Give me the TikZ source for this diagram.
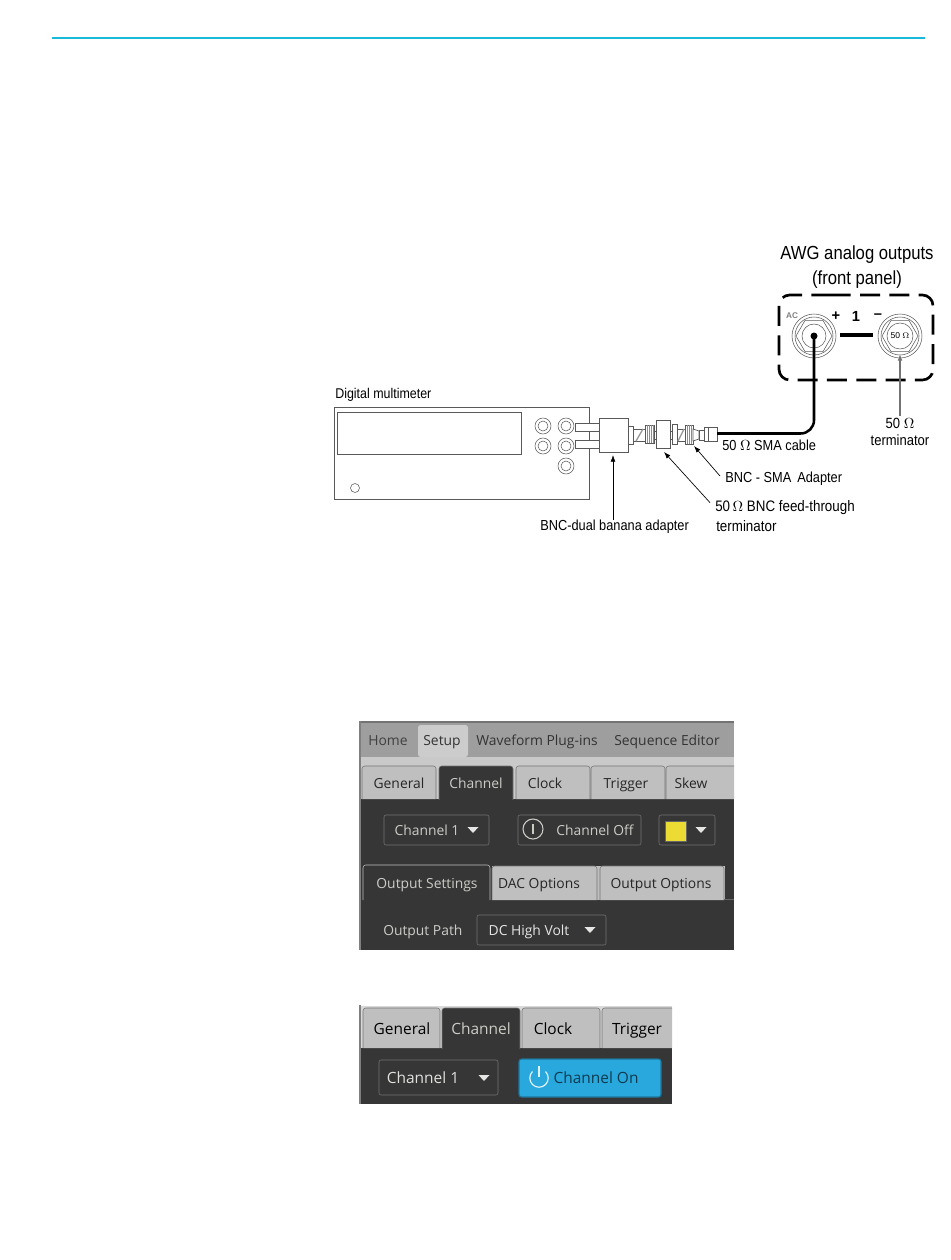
\documentclass[tikz,border=0pt]{standalone}
\usepackage{fontspec}
\setmainfont{Liberation Sans}
\newfontfamily\lblfont[FakeStretch=0.88]{Liberation Sans}
\newfontfamily\uifont{Open Sans}
\usetikzlibrary{arrows.meta}
\usetikzlibrary{positioning}
\definecolor{mcyan}{rgb}{0.09, 0.73, 0.85}
\definecolor{mdark}{rgb}{0.21, 0.21, 0.21}
\definecolor{mbar}{rgb}{0.62, 0.62, 0.62}
\definecolor{mtab}{rgb}{0.75, 0.75, 0.75}
\definecolor{mblue}{rgb}{0.16, 0.66, 0.87}
\definecolor{mtext}{rgb}{0.8, 0.8, 0.78}
\definecolor{mline}{rgb}{0.45, 0.45, 0.45}
\definecolor{myellow}{rgb}{0.92, 0.86, 0.2}
\tikzset{lbl/.style = {font=\lblfont\fontsize{10.9}{12}\selectfont, inner sep=0pt},
         part/.style = {draw=black!65, line width=0.5pt, fill=white},
         point/.style = {-{Latex[length=5pt,width=3.6pt]}, line width=0.5pt},
         uitext/.style = {font=\uifont\fontsize{10.4}{12}\selectfont, inner sep=0pt, text height=8pt, text depth=2pt},
         bigui/.style = {uitext, font=\uifont\fontsize{11.6}{14}\selectfont},
         lighttab/.style = {draw=black!55, fill=mtab, rounded corners=2pt},
         darktab/.style = {draw=black!55, fill=mdark, rounded corners=2pt},
         dropbox/.style = {draw=mline, fill=mdark, rounded corners=1.5pt}}

\begin{document}
\begin{tikzpicture}[x=0.75pt,y=-0.75pt]
    \useasboundingbox (0, 0) rectangle (950, 1260);
    \draw [mcyan, line width=2.2pt] (52, 38) -- (925, 38);

    % multimeter
    \node [lbl, font=\lblfont\fontsize{10.6}{12}\selectfont, anchor=west] (meterlabel) at (335, 395) {Digital multimeter};
    \draw [part] (334, 407) rectangle (589, 499);
    \draw [part] (337.5, 412) rectangle (521.5, 454);
    \foreach \x/\y in {543/426, 566/426, 543/446, 566/446, 566/466} {
      \draw [black!65, line width=0.4pt] (\x, \y) circle [radius=8] (\x, \y) circle [radius=5];
    }
    \draw [black!65, line width=0.4pt] (355, 488) circle [radius=4.5];
    \draw [part] (575, 423) rectangle (599, 431);
    \draw [part] (575, 440) rectangle (599, 448);

    % adapters
    \draw [part] (599, 418) rectangle (628, 452);
    \draw [part] (628, 426) rectangle (633, 444);
    \draw [part] (633, 429) rectangle (645, 441);
    \draw [black!40, line width=1pt] (636, 441) -- (643, 429);
    \draw [part] (645, 425) rectangle (654, 443);
    \foreach \x in {647, 649, 651, 653} {
      \draw [black!45, line width=0.4pt] (\x, 425) -- (\x, 443);
    }
    \draw [part] (654, 431) rectangle (656, 439);
    \draw [part] (656, 420) rectangle (670, 448);
    \draw [part] (670, 431) rectangle (672, 439);
    \draw [part] (672, 424) rectangle (677, 444);
    \draw [part] (677, 429) rectangle (685, 441);
    \draw [black!40, line width=1pt] (678, 441) -- (684, 429);
    \draw [part] (685, 425) rectangle (693, 444);
    \foreach \x in {687, 689, 691} {
      \draw [black!45, line width=0.4pt] (\x, 425) -- (\x, 444);
    }
    \draw [part] (693, 429) -- (699, 431) -- (699, 439) -- (693, 441) -- cycle;
    \draw [part] (699, 430) rectangle (704, 440);
    \draw [part] (704, 427) rectangle (717, 441);
    \draw [black!65, line width=0.4pt] (708, 427) -- (708, 441);

    % front panel
    \node [lbl, font=\lblfont\fontsize{14.2}{16}\selectfont] (awgtitle) at (857, 255) {AWG analog outputs};
    \node [lbl, font=\lblfont\fontsize{14.2}{16}\selectfont, below=5pt of awgtitle] (awgsub) {(front panel)};
    \draw [line width=2pt, rounded corners=8pt, dash pattern=on 15 off 7] (820, 295) -| (933, 380) -| (779, 295) -- cycle;
    \foreach \x in {814, 900} {
      \draw [black!65, line width=0.4pt] (\x, 336) circle [radius=22] (\x, 336) circle [radius=19];
      \draw [black!65, line width=0.4pt] (\x, 336) +(0:18) -- +(60:18) -- +(120:18) -- +(180:18) -- +(240:18) -- +(300:18) -- cycle;
    }
    \draw [black!65, line width=0.4pt] (814, 336) circle [radius=12];
    \draw [black!65, line width=0.4pt] (900, 336) circle [radius=13];
    \node [lbl, font=\bfseries\fontsize{6.2}{7}\selectfont, black!50] (aclabel) at (792, 316) {AC};
    \node [lbl, font=\bfseries\fontsize{11}{12}\selectfont] (pluslabel) at (836, 316) {+};
    \node [lbl, font=\bfseries\fontsize{11}{12}\selectfont] (onelabel) at (856, 316) {1};
    \node [lbl, font=\bfseries\fontsize{11}{12}\selectfont] (minuslabel) at (878, 316) {--};
    \coordinate (barleft) at (840, 335);
    \coordinate (barright) at (873, 335);
    \draw [line width=2.4pt] (barleft) -- (barright);
    \node [lbl, font=\fontsize{6.4}{7}\selectfont] (innerfifty) at (900, 336) {50 $\Omega$};

    % cable
    \coordinate (jackplus) at (814, 336);
    \coordinate (smaend) at (717, 433.5);
    \fill (jackplus) circle [radius=3.5];
    \draw [line width=1.9pt, rounded corners=10pt] (smaend) -| (jackplus);

    % labels
    \node [lbl, anchor=west] (cablelabel) at (722, 445) {50 $\Omega$ SMA cable};
    \node [lbl, anchor=west] (smalabel) at (725, 479) {BNC - SMA\, Adapter};
    \node [lbl, font=\lblfont\fontsize{11.4}{12}\selectfont, anchor=west] (feedlabel) at (715, 508) {50\,$\Omega$ BNC feed-through};
    \node [lbl, font=\lblfont\fontsize{11.4}{12}\selectfont, anchor=west] (feedlabelb) at (716, 526) {terminator};
    \node [lbl, anchor=west] (bananalabel) at (540, 527) {BNC-dual banana adapter};
    \node [lbl, font=\lblfont\fontsize{11.1}{12}\selectfont] (termlabel) at (900, 423) {50 $\Omega$};
    \node [lbl, font=\lblfont\fontsize{11.1}{12}\selectfont] (termlabelb) at (900, 440) {terminator};

    \coordinate (bananatip) at (613, 455);
    \coordinate (feedtip) at (664, 452);
    \coordinate (smatip) at (694, 446);
    \coordinate (termtip) at (900, 354);
    \draw [point] (bananalabel.north -| bananatip) -- (bananatip);
    \draw [point] (feedlabel.north west) ++(-5, 2) coordinate (feedfoot) -- (feedtip);
    \draw [point] (smalabel.west) ++(-5, -3) coordinate (smafoot) -- (smatip);
    \draw [point, black!55, line width=0.8pt] (termlabel.north) ++(0, -2) coordinate (termfoot) -- (termtip);

    % first screenshot
    \fill [mdark] (360, 721) rectangle (734, 950);
    \fill [mbar] (360, 722) rectangle (734, 757);
    \fill [mtab!85!white] (360, 757) rectangle (734, 799);
    \fill [black!55] (360, 721) rectangle (734, 722.5);
    \fill [black!50] (358.5, 721) rectangle (361, 950);
    \fill [mtab!80!white, rounded corners=2pt] (418, 757) |- (468, 725) -- (468, 757) -- cycle;
    \node [uitext, black!75] (tabhome) at (388, 741) {Home};
    \node [uitext, black!80] (tabsetup) at (442, 741) {Setup};
    \node [uitext, black!80] (tabplug) at (537, 741) {Waveform Plug-ins};
    \node [uitext, black!80] (tabseq) at (667, 741) {Sequence Editor};
    \begin{scope}
      \clip (360, 760) rectangle (734, 800);
      \foreach \a/\b in {362/436, 516/590, 591/665, 666/740} {
        \draw [lighttab] (\a, 799) |- (\b, 766) -- (\b, 799);
      }
    \end{scope}
    \draw [darktab] (439, 800) |- (513, 766) -- (513, 800);
    \node [uitext, black!85] (tabgeneral) at (399, 784) {General};
    \node [uitext, mtext] (tabchannel) at (476, 784) {Channel};
    \node [uitext, black!85] (tabclock) at (545, 784) {Clock};
    \node [uitext, black!85] (tabtrigger) at (626, 784) {Trigger};
    \node [uitext, black!85] (tabskew) at (691, 784) {Skew};

    \draw [dropbox] (384, 815) rectangle (489, 845);
    \draw [dropbox] (518, 815) rectangle (641, 845);
    \draw [dropbox] (659, 815) rectangle (715, 845);
    \node [uitext, mtext] (dropchannel) at (427, 831) {Channel 1};
    \node [uitext, mtext] (btnoff) at (595, 831) {Channel Off};
    \draw [mtext, line width=0.8pt] (533, 829) circle [radius=10];
    \draw [mtext, line width=0.8pt] (533, 824) -- (533, 834);
    \fill [myellow, draw=black!60, line width=0.3pt] (665, 821) rectangle (686, 841);

    \fill [mtab] (492, 866) rectangle (734, 900);
    \foreach \a/\b in {492/597, 600/724} {
      \draw [lighttab] (\a, 900) |- (\b, 866) -- (\b, 900);
    }
    \fill [mdark] (724.5, 866) rectangle (734, 899.5);
    \draw [black!60, line width=0.3pt] (724, 899.5) -- (734, 899.5);
    \draw [darktab, draw=black!25] (363, 900) |- (490, 865) -- (490, 900);
    \node [uitext, mtext] (tabsettings) at (427, 884) {Output Settings};
    \node [uitext, black!85] (tabdac) at (539, 884) {DAC Options};
    \node [uitext, black!85] (taboptions) at (661, 884) {Output Options};
    \node [uitext, mtext, anchor=west] (pathlabel) at (383, 931) {Output Path};
    \draw [dropbox] (477, 915) rectangle (606, 945);
    \node [uitext, white!90!black] (droppath) at (529, 931) {DC High Volt};

    % second screenshot
    \fill [mdark] (360, 1006) rectangle (672, 1104);
    \fill [mtab!60!white] (360, 1006) rectangle (672, 1048);
    \fill [black!50] (358.5, 1005) rectangle (361, 1104);
    \begin{scope}
      \clip (360, 1000) rectangle (672, 1049);
      \foreach \a/\b in {363/440, 522/600, 602/680} {
        \draw [lighttab] (\a, 1048) |- (\b, 1008) -- (\b, 1048);
      }
    \end{scope}
    \draw [darktab] (442, 1049) |- (520, 1008) -- (520, 1049);
    \node [bigui, black] (tabgeneralb) at (402, 1030) {General};
    \node [bigui, mtext] (tabchannelb) at (481, 1030) {Channel};
    \node [bigui, black] (tabclockb) at (553, 1030) {Clock};
    \node [bigui, black] (tabtriggerb) at (637, 1030) {Trigger};
    \draw [dropbox] (379, 1060) rectangle (498, 1095);
    \node [bigui, mtext!60!white] (dropchannelb) at (423, 1079) {Channel 1};
    \draw [mblue!70!black, fill=mblue, rounded corners=2pt, line width=0.8pt] (519, 1059) rectangle (661, 1097);
    \draw [white!85!mblue, line width=0.9pt] (532.5, 1071.5) arc [start angle=225, end angle=-45, radius=9.2];
    \draw [white!85!mblue, line width=0.9pt] (539, 1066) -- (539, 1077);
    \node [bigui, mblue!35!black] (btnon) at (596, 1079) {Channel On};

    % drop-down marks
    \foreach \x/\y in {473/830, 701/830, 590/930, 484/1078} {
      \fill [mtext!50!white] (\x - 5.5, \y - 3) -- (\x + 5.5, \y - 3) -- (\x, \y + 3) -- cycle;
    }
\end{tikzpicture}
\end{document}
